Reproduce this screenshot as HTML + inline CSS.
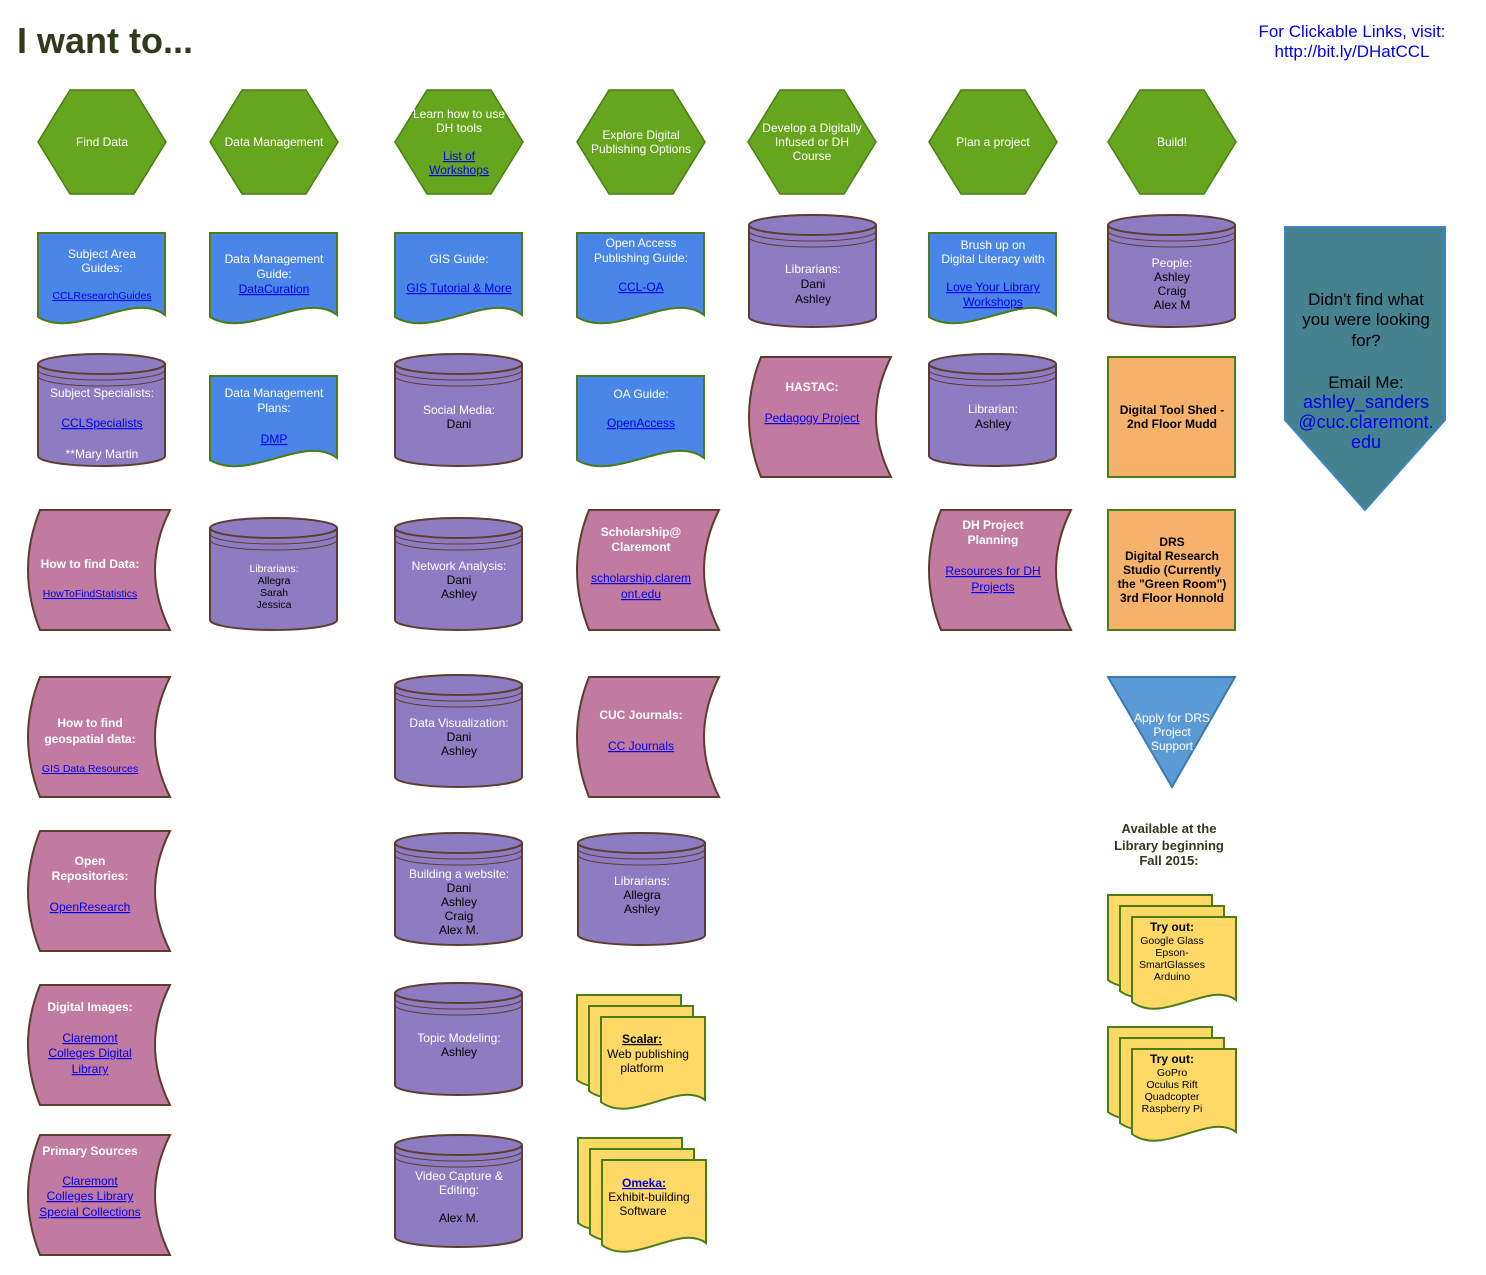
<!DOCTYPE html>
<html><head><meta charset="utf-8"><style>
html,body{margin:0;padding:0;background:#fff}
svg{display:block}
text{font-family:"Liberation Sans",Arial,sans-serif;font-size:12px;fill:#fff;text-anchor:middle}
.k{fill:#000}
.b{font-weight:bold}
.l{fill:#0000ee;text-decoration:underline}
.s{font-size:11px}
.xs{font-size:10.5px}
</style></head><body>
<svg width="1486" height="1275" viewBox="0 0 1486 1275" xmlns="http://www.w3.org/2000/svg">
<defs>
<polygon id="hex" points="0,52 32,0 96,0 128,52 96,104 32,104" fill="#66a61e" stroke="#4a7d14" stroke-width="1.5"/>
<path id="doc" d="M0,0H127V82C95,57 38,107 0,84Z" fill="#4a86e8" stroke="#4a7d14" stroke-width="2"/>
<g id="cyl" stroke="#5c3d2e" stroke-width="2">
<path d="M0,10V102A63.5,10 0 0 0 127,102V10" fill="#8e7cc3"/>
<ellipse cx="63.5" cy="10" rx="63.5" ry="10" fill="#8e7cc3"/>
<path d="M0,16A63.5,10 0 0 0 127,16M0,22A63.5,10 0 0 0 127,22" fill="none" stroke-width="1"/>
</g>
<path id="pink" d="M12,0H142Q112,60 142,120H12Q-12,60 12,0Z" fill="#c27ba0" stroke="#5c3d2e" stroke-width="2"/>
<path id="pg" d="M0,0H104V83C78,63 31,108 0,85Z" fill="#ffd966" stroke="#4a7d14" stroke-width="2"/>
<g id="md"><use href="#pg" x="0" y="0"/><use href="#pg" x="12" y="11"/><use href="#pg" x="24" y="22"/></g>
</defs>

<text x="17" y="53" style="font-size:36px;font-weight:bold;fill:#2f3a1f;text-anchor:start">I want to...</text>
<text x="1352" y="37" style="font-size:17px;fill:#0000ee">For Clickable Links, visit:</text>
<text x="1352" y="57" style="font-size:17px;fill:#0000ee">http://bit.ly/DHatCCL</text>

<!-- hexes -->
<use href="#hex" x="38" y="90"/><text x="102" y="146">Find Data</text>
<use href="#hex" x="210" y="90"/><text x="274" y="146">Data Management</text>
<use href="#hex" x="395" y="90"/><text x="459" y="118">Learn how to use</text><text x="459" y="132">DH tools</text><text x="459" y="160" class="l">List of</text><text x="459" y="174" class="l">Workshops</text>
<use href="#hex" x="577" y="90"/><text x="641" y="139">Explore Digital</text><text x="641" y="153">Publishing Options</text>
<use href="#hex" x="748" y="90"/><text x="812" y="132">Develop a Digitally</text><text x="812" y="146">Infused or DH</text><text x="812" y="160">Course</text>
<use href="#hex" x="929" y="90"/><text x="993" y="146">Plan a project</text>
<use href="#hex" x="1108" y="90"/><text x="1172" y="146">Build!</text>

<!-- col1 -->
<use href="#doc" x="38" y="233"/><text x="102" y="258">Subject Area</text><text x="102" y="272">Guides:</text><text x="102" y="299" class="l xs">CCLResearchGuides</text>
<use href="#cyl" x="38" y="354"/><text x="102" y="397">Subject Specialists:</text><text x="102" y="427" class="l">CCLSpecialists</text><text x="102" y="458">**Mary Martin</text>
<use href="#pink" x="28" y="510"/><text x="90" y="568" class="b">How to find Data:</text><text x="90" y="597" class="l xs">HowToFindStatistics</text>
<use href="#pink" x="28" y="677"/><text x="90" y="727" class="b">How to find</text><text x="90" y="743" class="b">geospatial data:</text><text x="90" y="772" class="l xs">GIS Data Resources</text>
<use href="#pink" x="28" y="831"/><text x="90" y="865" class="b">Open</text><text x="90" y="880" class="b">Repositories:</text><text x="90" y="911" class="l">OpenResearch</text>
<use href="#pink" x="28" y="985"/><text x="90" y="1011" class="b">Digital Images:</text><text x="90" y="1042" class="l">Claremont</text><text x="90" y="1057" class="l">Colleges Digital</text><text x="90" y="1073" class="l">Library</text>
<use href="#pink" x="28" y="1135"/><text x="90" y="1155" class="b">Primary Sources</text><text x="90" y="1185" class="l">Claremont</text><text x="90" y="1200" class="l">Colleges Library</text><text x="90" y="1216" class="l">Special Collections</text>

<!-- col2 -->
<use href="#doc" x="210" y="233"/><text x="274" y="263">Data Management</text><text x="274" y="278">Guide:</text><text x="274" y="293" class="l">DataCuration</text>
<use href="#doc" x="210" y="376"/><text x="274" y="397">Data Management</text><text x="274" y="412">Plans:</text><text x="274" y="443" class="l">DMP</text>
<use href="#cyl" x="210" y="518"/><text x="274" y="572" class="xs">Librarians:</text><text x="274" y="584" class="xs k">Allegra</text><text x="274" y="596" class="xs k">Sarah</text><text x="274" y="608" class="xs k">Jessica</text>

<!-- col3 -->
<use href="#doc" x="395" y="233"/><text x="459" y="263">GIS Guide:</text><text x="459" y="292" class="l">GIS Tutorial &amp; More</text>
<use href="#cyl" x="395" y="354"/><text x="459" y="414">Social Media:</text><text x="459" y="428" class="k">Dani</text>
<use href="#cyl" x="395" y="518"/><text x="459" y="570">Network Analysis:</text><text x="459" y="584" class="k">Dani</text><text x="459" y="598" class="k">Ashley</text>
<use href="#cyl" x="395" y="675"/><text x="459" y="727">Data Visualization:</text><text x="459" y="741" class="k">Dani</text><text x="459" y="755" class="k">Ashley</text>
<use href="#cyl" x="395" y="833"/><text x="459" y="878">Building a website:</text><text x="459" y="892" class="k">Dani</text><text x="459" y="906" class="k">Ashley</text><text x="459" y="920" class="k">Craig</text><text x="459" y="934" class="k">Alex M.</text>
<use href="#cyl" x="395" y="983"/><text x="459" y="1042">Topic Modeling:</text><text x="459" y="1056" class="k">Ashley</text>
<use href="#cyl" x="395" y="1135"/><text x="459" y="1180">Video Capture &amp;</text><text x="459" y="1194">Editing:</text><text x="459" y="1222" class="k">Alex M.</text>

<!-- col4 -->
<use href="#doc" x="577" y="233"/><text x="641" y="247">Open Access</text><text x="641" y="262">Publishing Guide:</text><text x="641" y="291" class="l">CCL-OA</text>
<use href="#doc" x="577" y="376"/><text x="641" y="398">OA Guide:</text><text x="641" y="427" class="l">OpenAccess</text>
<use href="#pink" x="577" y="510"/><text x="641" y="536" class="b">Scholarship@</text><text x="641" y="551" class="b">Claremont</text><text x="641" y="582" class="l">scholarship.clarem</text><text x="641" y="598" class="l">ont.edu</text>
<use href="#pink" x="577" y="677"/><text x="641" y="719" class="b">CUC Journals:</text><text x="641" y="750" class="l">CC Journals</text>
<use href="#cyl" x="578" y="833"/><text x="642" y="885">Librarians:</text><text x="642" y="899" class="k">Allegra</text><text x="642" y="913" class="k">Ashley</text>
<use href="#md" x="577" y="995"/><text x="642" y="1043" class="k b" style="text-decoration:underline">Scalar:</text><text x="648" y="1058" class="k">Web publishing</text><text x="642" y="1072" class="k">platform</text>
<use href="#md" x="578" y="1138"/><text x="644" y="1187" class="l b">Omeka:</text><text x="649" y="1201" class="k">Exhibit-building</text><text x="643" y="1215" class="k">Software</text>

<!-- col5 -->
<use href="#cyl" x="749" y="215"/><text x="813" y="273">Librarians:</text><text x="813" y="288" class="k">Dani</text><text x="813" y="303" class="k">Ashley</text>
<use href="#pink" x="749" y="357"/><text x="812" y="391" class="b">HASTAC:</text><text x="812" y="422" class="l">Pedagogy Project</text>

<!-- col6 -->
<use href="#doc" x="929" y="233"/><text x="993" y="249">Brush up on</text><text x="993" y="263">Digital Literacy with</text><text x="993" y="291" class="l">Love Your Library</text><text x="993" y="306" class="l">Workshops</text>
<use href="#cyl" x="929" y="354"/><text x="993" y="413">Librarian:</text><text x="993" y="428" class="k">Ashley</text>
<use href="#pink" x="929" y="510"/><text x="993" y="529" class="b">DH Project</text><text x="993" y="544" class="b">Planning</text><text x="993" y="575" class="l">Resources for DH</text><text x="993" y="591" class="l">Projects</text>

<!-- col7 -->
<use href="#cyl" x="1108" y="215"/><text x="1172" y="267">People:</text><text x="1172" y="281" class="k">Ashley</text><text x="1172" y="295" class="k">Craig</text><text x="1172" y="309" class="k">Alex M</text>
<rect x="1108" y="357" width="127" height="120" fill="#f6b26b" stroke="#4a7d14" stroke-width="2"/>
<text x="1172" y="414" class="k b">Digital Tool Shed -</text><text x="1172" y="428" class="k b">2nd Floor Mudd</text>
<rect x="1108" y="510" width="127" height="120" fill="#f6b26b" stroke="#4a7d14" stroke-width="2"/>
<text x="1172" y="546" class="k b">DRS</text><text x="1172" y="560" class="k b">Digital Research</text><text x="1172" y="574" class="k b">Studio (Currently</text><text x="1172" y="588" class="k b">the "Green Room")</text><text x="1172" y="602" class="k b">3rd Floor Honnold</text>
<polygon points="1108,677 1235,677 1172,787" fill="#5b9bd5" stroke="#3d78b0" stroke-width="2"/>
<text x="1172" y="722">Apply for DRS</text><text x="1172" y="736">Project</text><text x="1172" y="750">Support</text>
<text x="1169" y="833" class="b" style="font-size:13px;fill:#2f3a1f">Available at the</text>
<text x="1169" y="850" class="b" style="font-size:13px;fill:#2f3a1f">Library beginning</text>
<text x="1169" y="865" class="b" style="font-size:13px;fill:#2f3a1f">Fall 2015:</text>
<use href="#md" x="1108" y="895"/><text x="1172" y="931" class="k b">Try out:</text><text x="1172" y="944" class="k xs">Google Glass</text><text x="1172" y="956" class="k xs">Epson-</text><text x="1172" y="968" class="k xs">SmartGlasses</text><text x="1172" y="980" class="k xs">Arduino</text>
<use href="#md" x="1108" y="1027"/><text x="1172" y="1063" class="k b">Try out:</text><text x="1172" y="1076" class="k xs">GoPro</text><text x="1172" y="1088" class="k xs">Oculus Rift</text><text x="1172" y="1100" class="k xs">Quadcopter</text><text x="1172" y="1112" class="k xs">Raspberry Pi</text>

<!-- big arrow -->
<polygon points="1285,227 1445,227 1445,420 1365,510 1285,420" fill="#45818e" stroke="#3d85c6" stroke-width="2"/>
<text x="1366" y="305" class="k" style="font-size:17px">Didn't find what</text>
<text x="1366" y="325" class="k" style="font-size:17px">you were looking</text>
<text x="1366" y="346" class="k" style="font-size:17px">for?</text>
<text x="1366" y="388" class="k" style="font-size:17px">Email Me:</text>
<text x="1366" y="408" style="font-size:18px;fill:#0000ee">ashley_sanders</text>
<text x="1366" y="428" style="font-size:18px;fill:#0000ee">@cuc.claremont.</text>
<text x="1366" y="448" style="font-size:18px;fill:#0000ee">edu</text>
</svg>
</body></html>
